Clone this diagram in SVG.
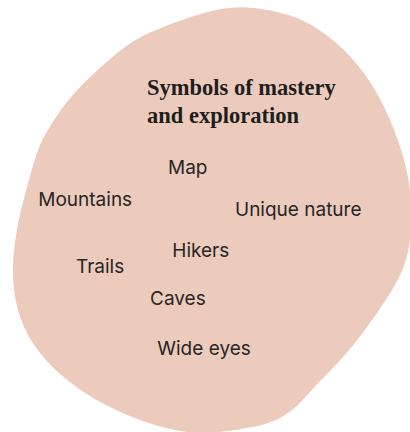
<svg xmlns="http://www.w3.org/2000/svg" width="410" height="432" viewBox="0 0 410 432">
  <style>
    .blob { fill: #ECCBBC; }
    .title { font-family: "Liberation Serif", "DejaVu Serif", serif; font-weight: bold; font-size: 22.5px; fill: #1E1E1E; }
    .label { font-family: Inter, "Liberation Sans", sans-serif; font-size: 19px; fill: #262626; }
  </style>
  <rect width="410" height="432" fill="#FFFFFF"/>
  <!-- soft organic background shape -->
  <path class="blob" d="M221.5,9 Q238,6 255,8 Q272,10 288.5,15 Q305,20 321.5,31.5 Q338,43 351.5,58 Q365,73 375,90 Q385,107 393.5,128.5 Q402,150 406.5,170 Q411,190 411.5,210 Q412,230 408.5,249.5 Q405,269 391.5,291 Q378,313 361.5,334.5 Q345,356 330,371 Q315,386 305,397.5 Q295,409 283.5,416 Q272,423 255,426.5 Q238,430 219,432 Q200,434 183.5,431.5 Q167,429 147,422.5 Q127,416 105,404.5 Q83,393 66.5,379.5 Q50,366 38.5,351 Q27,336 21,319.5 Q15,303 13.5,284.5 Q12,266 14.5,245.5 Q17,225 22,206 Q27,187 31,172.5 Q35,158 39,147.5 Q43,137 55,118.5 Q67,100 83.5,83.5 Q100,67 116.5,53.5 Q133,40 150,32.5 Q167,25 186,18.5 Q205,12 221.5,9 Z"/>
  <g id="title">
    <text class="title" x="147" y="94.5">Symbols of mastery</text>
    <text class="title" x="147" y="123">and exploration</text>
  </g>
  <g id="map"><text class="label" x="168" y="174">Map</text></g>
  <g id="mountains"><text class="label" x="38.3" y="206">Mountains</text></g>
  <g id="unique-nature"><text class="label" x="235" y="215.5">Unique nature</text></g>
  <g id="hikers"><text class="label" x="172.3" y="257.3">Hikers</text></g>
  <g id="trails"><text class="label" x="76" y="272.7">Trails</text></g>
  <g id="caves"><text class="label" x="150" y="305.3">Caves</text></g>
  <g id="wide-eyes"><text class="label" x="157.3" y="355.3">Wide eyes</text></g>
</svg>
